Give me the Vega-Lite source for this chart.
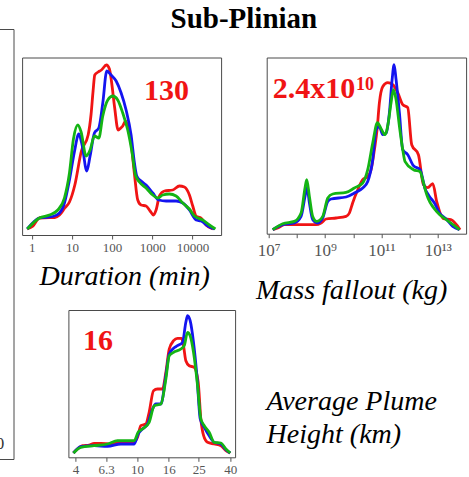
{
  "$schema": "https://vega.github.io/schema/vega-lite/v6.json",
  "padding": {"left": -5.5, "top": 5, "right": 0, "bottom": 0},
  "background": "white",
  "title": {"text": "Sub-Plinian", "font": "Liberation Serif", "fontSize": 29, "fontWeight": "bold", "color": "black", "anchor": "middle", "frame": "bounds", "baseline": "alphabetic", "offset": -28.5, "dx": 13},
  "config": {
    "view": {"stroke": "#4a4a4a", "strokeWidth": 1},
    "font": "Liberation Serif",
    "line": {"strokeWidth": 2.8},
    "axis": {"labelFont": "Liberation Serif", "titleFont": "Liberation Serif", "grid": false, "domain": false, "tickColor": "#555555", "labelColor": "#555555", "tickSize": 4, "labelPadding": 2, "titleColor": "black", "titleFontStyle": "italic", "titleFontWeight": "normal", "titleFontSize": 28, "titleBaseline": "alphabetic", "titleAlign": "center"}
  },
  "datasets": {
    "duration": [
      {"series":"A","minutes":0.77,"density":0},{"series":"A","minutes":1.06,"density":2.7},{"series":"A","minutes":1.55,"density":11},{"series":"A","minutes":2.75,"density":11.5},{"series":"A","minutes":3.74,"density":11.5},{"series":"A","minutes":4.9,"density":14},{"series":"A","minutes":6.63,"density":21},{"series":"A","minutes":8.67,"density":27},{"series":"A","minutes":11.8,"density":44},{"series":"A","minutes":17.2,"density":78},{"series":"A","minutes":25.3,"density":94},{"series":"A","minutes":30,"density":115},{"series":"A","minutes":33.6,"density":138},{"series":"A","minutes":37,"density":154},{"series":"A","minutes":45,"density":157},{"series":"A","minutes":54.2,"density":159},{"series":"A","minutes":72.2,"density":164},{"series":"A","minutes":85.8,"density":160},{"series":"A","minutes":96.2,"density":148},{"series":"A","minutes":116,"density":121},{"series":"A","minutes":141,"density":99},{"series":"A","minutes":165,"density":101},{"series":"A","minutes":184,"density":103},{"series":"A","minutes":215,"density":108},{"series":"A","minutes":245,"density":103},{"series":"A","minutes":297,"density":86},{"series":"A","minutes":360,"density":55},{"series":"A","minutes":435,"density":29},{"series":"A","minutes":527,"density":24},{"series":"A","minutes":702,"density":23},{"series":"A","minutes":883,"density":18},{"series":"A","minutes":1069,"density":14},{"series":"A","minutes":1245,"density":19},{"series":"A","minutes":1508,"density":33},{"series":"A","minutes":2009,"density":38},{"series":"A","minutes":3237,"density":39},{"series":"A","minutes":4743,"density":43},{"series":"A","minutes":6322,"density":42},{"series":"A","minutes":8420,"density":34},{"series":"A","minutes":10190,"density":23},{"series":"A","minutes":12340,"density":13},{"series":"A","minutes":16430,"density":11},{"series":"A","minutes":21880,"density":4},{"series":"A","minutes":32080,"density":0},
      {"series":"B","minutes":0.77,"density":0},{"series":"B","minutes":1.55,"density":11},{"series":"B","minutes":3.33,"density":12.5},{"series":"B","minutes":4.89,"density":16},{"series":"B","minutes":6.5,"density":26},{"series":"B","minutes":8.67,"density":49},{"series":"B","minutes":11.5,"density":77},{"series":"B","minutes":14.8,"density":95},{"series":"B","minutes":17.9,"density":84},{"series":"B","minutes":23.4,"density":58},{"series":"B","minutes":28.3,"density":73},{"series":"B","minutes":36.3,"density":96},{"series":"B","minutes":46.6,"density":101},{"series":"B","minutes":58.6,"density":126},{"series":"B","minutes":73.7,"density":158},{"series":"B","minutes":94.4,"density":154},{"series":"B","minutes":126,"density":148},{"series":"B","minutes":168,"density":136},{"series":"B","minutes":223,"density":119},{"series":"B","minutes":297,"density":94},{"series":"B","minutes":360,"density":66},{"series":"B","minutes":411,"density":53},{"series":"B","minutes":527,"density":48},{"series":"B","minutes":702,"density":44},{"series":"B","minutes":1029,"density":36},{"series":"B","minutes":1452,"density":29},{"series":"B","minutes":2209,"density":28},{"series":"B","minutes":3918,"density":28},{"series":"B","minutes":5741,"density":26},{"series":"B","minutes":8420,"density":19},{"series":"B","minutes":12340,"density":9},{"series":"B","minutes":16430,"density":8},{"series":"B","minutes":24090,"density":3},{"series":"B","minutes":35320,"density":0},
      {"series":"C","minutes":0.77,"density":0},{"series":"C","minutes":1.55,"density":11},{"series":"C","minutes":2.75,"density":14},{"series":"C","minutes":4.44,"density":19},{"series":"C","minutes":6.5,"density":31},{"series":"C","minutes":8.67,"density":56},{"series":"C","minutes":10.9,"density":90},{"series":"C","minutes":14.0,"density":104},{"series":"C","minutes":16.9,"density":97},{"series":"C","minutes":22.5,"density":73},{"series":"C","minutes":28.3,"density":79},{"series":"C","minutes":36.3,"density":93},{"series":"C","minutes":46.6,"density":91},{"series":"C","minutes":58.6,"density":113},{"series":"C","minutes":78,"density":129},{"series":"C","minutes":104,"density":133},{"series":"C","minutes":138,"density":129},{"series":"C","minutes":184,"density":116},{"series":"C","minutes":245,"density":99},{"series":"C","minutes":315,"density":76},{"series":"C","minutes":381,"density":54},{"series":"C","minutes":479,"density":47},{"series":"C","minutes":702,"density":41},{"series":"C","minutes":1029,"density":34},{"series":"C","minutes":1370,"density":31},{"series":"C","minutes":1824,"density":34},{"series":"C","minutes":2674,"density":35},{"series":"C","minutes":3918,"density":33},{"series":"C","minutes":5741,"density":26},{"series":"C","minutes":8420,"density":20},{"series":"C","minutes":11220,"density":13},{"series":"C","minutes":18070,"density":9},{"series":"C","minutes":26490,"density":4},{"series":"C","minutes":37410,"density":0}
    ],
    "duration_label": [{"minutes": 2250, "density": 129, "label": "130"}],
    "mass": [
      {"series":"A","kg":1.39e7,"density":0},{"series":"A","kg":2.09e7,"density":1.7},{"series":"A","kg":3.6e7,"density":5},{"series":"A","kg":4.79e8,"density":5},{"series":"A","kg":7.21e8,"density":6.7},{"series":"A","kg":1.09e9,"density":10.7},{"series":"A","kg":2.46e9,"density":11.7},{"series":"A","kg":5.57e9,"density":13.3},{"series":"A","kg":7.31e9,"density":16.7},{"series":"A","kg":9.59e9,"density":27},{"series":"A","kg":1.45e10,"density":40},{"series":"A","kg":2.17e10,"density":50},{"series":"A","kg":3.27e10,"density":53},{"series":"A","kg":4.3e10,"density":60},{"series":"A","kg":5.64e10,"density":80},{"series":"A","kg":7.02e10,"density":100},{"series":"A","kg":8.49e10,"density":127},{"series":"A","kg":1.11e11,"density":143},{"series":"A","kg":1.68e11,"density":147},{"series":"A","kg":2.52e11,"density":145},{"series":"A","kg":3.8e11,"density":137},{"series":"A","kg":5.72e11,"density":125},{"series":"A","kg":8.61e11,"density":122},{"series":"A","kg":1.19e12,"density":85},{"series":"A","kg":2.06e12,"density":75},{"series":"A","kg":3.1e12,"density":45},{"series":"A","kg":4.42e12,"density":42},{"series":"A","kg":6.64e12,"density":46},{"series":"A","kg":9.2e12,"density":28},{"series":"A","kg":1.59e13,"density":11},{"series":"A","kg":2.9e13,"density":10},{"series":"A","kg":6.21e13,"density":0},
      {"series":"B","kg":1.39e7,"density":0},{"series":"B","kg":3.14e7,"density":5},{"series":"B","kg":8.15e7,"density":6.7},{"series":"B","kg":1.41e8,"density":13.3},{"series":"B","kg":2.0e8,"density":35},{"series":"B","kg":2.3e8,"density":42},{"series":"B","kg":2.78e8,"density":27},{"series":"B","kg":3.65e8,"density":10},{"series":"B","kg":5.5e8,"density":6.7},{"series":"B","kg":8.26e8,"density":11.7},{"series":"B","kg":1.25e9,"density":28.3},{"series":"B","kg":1.63e9,"density":30.7},{"series":"B","kg":5.57e9,"density":32.7},{"series":"B","kg":1.1e10,"density":36.7},{"series":"B","kg":2.17e10,"density":41.7},{"series":"B","kg":3.27e10,"density":48.3},{"series":"B","kg":4.92e10,"density":70},{"series":"B","kg":6.47e10,"density":100},{"series":"B","kg":8.49e10,"density":103},{"series":"B","kg":1.11e11,"density":95},{"series":"B","kg":1.47e11,"density":96.7},{"series":"B","kg":1.92e11,"density":116.7},{"series":"B","kg":2.4e11,"density":150},{"series":"B","kg":2.82e11,"density":165},{"series":"B","kg":3.32e11,"density":150},{"series":"B","kg":4.36e11,"density":116.7},{"series":"B","kg":5.72e11,"density":80},{"series":"B","kg":8.61e11,"density":75},{"series":"B","kg":1.37e12,"density":64},{"series":"B","kg":2.36e12,"density":60},{"series":"B","kg":3.55e12,"density":41},{"series":"B","kg":5.06e12,"density":33.3},{"series":"B","kg":7.62e12,"density":26.7},{"series":"B","kg":1.15e13,"density":16.7},{"series":"B","kg":1.98e13,"density":10.7},{"series":"B","kg":3.41e13,"density":3.3},{"series":"B","kg":5.88e13,"density":0},
      {"series":"C","kg":1.39e7,"density":0},{"series":"C","kg":3.14e7,"density":6},{"series":"C","kg":8.15e7,"density":8.3},{"series":"C","kg":1.41e8,"density":16.7},{"series":"C","kg":1.95e8,"density":42},{"series":"C","kg":2.24e8,"density":50},{"series":"C","kg":2.78e8,"density":33.3},{"series":"C","kg":3.65e8,"density":13.3},{"series":"C","kg":5.06e8,"density":8.3},{"series":"C","kg":8.26e8,"density":13.3},{"series":"C","kg":1.25e9,"density":31.7},{"series":"C","kg":1.87e9,"density":35.7},{"series":"C","kg":5.57e9,"density":37.3},{"series":"C","kg":1.1e10,"density":41.7},{"series":"C","kg":2.17e10,"density":46.7},{"series":"C","kg":3.27e10,"density":60},{"series":"C","kg":4.92e10,"density":86.7},{"series":"C","kg":7.22e10,"density":107},{"series":"C","kg":9.73e10,"density":101},{"series":"C","kg":1.34e11,"density":95},{"series":"C","kg":1.75e11,"density":107},{"series":"C","kg":2.2e11,"density":127},{"series":"C","kg":2.67e11,"density":140},{"series":"C","kg":3.32e11,"density":130},{"series":"C","kg":4.36e11,"density":103.3},{"series":"C","kg":5.72e11,"density":80},{"series":"C","kg":6.92e11,"density":68},{"series":"C","kg":1.37e12,"density":60},{"series":"C","kg":2.36e12,"density":58},{"series":"C","kg":3.1e12,"density":47},{"series":"C","kg":4.06e12,"density":35},{"series":"C","kg":9.2e12,"density":18},{"series":"C","kg":2.09e13,"density":9.7},{"series":"C","kg":3.91e13,"density":4},{"series":"C","kg":5.88e13,"density":0}
    ],
    "mass_label": [{"kg": 1.39e7, "density": 131.7, "part": "mantissa", "label": "2.4x10"}, {"kg": 1.26e10, "density": 140, "part": "exponent", "label": "10"}],
    "height": [
      {"series":"A","km":3.88,"density":0},{"series":"A","km":4.12,"density":4},{"series":"A","km":4.44,"density":7.3},{"series":"A","km":4.9,"density":8},{"series":"A","km":5.28,"density":9.7},{"series":"A","km":5.83,"density":9.7},{"series":"A","km":6.77,"density":9},{"series":"A","km":7.85,"density":10.7},{"series":"A","km":9.58,"density":11.3},{"series":"A","km":10.07,"density":15.7},{"series":"A","km":10.57,"density":27.3},{"series":"A","km":11.4,"density":29},{"series":"A","km":11.97,"density":40.7},{"series":"A","km":12.77,"density":62.3},{"series":"A","km":13.55,"density":64},{"series":"A","km":14.59,"density":64},{"series":"A","km":15.35,"density":80.7},{"series":"A","km":16.14,"density":104},{"series":"A","km":17.22,"density":112.3},{"series":"A","km":18.25,"density":114.7},{"series":"A","km":19.38,"density":114.7},{"series":"A","km":19.96,"density":107.3},{"series":"A","km":20.66,"density":92.3},{"series":"A","km":21.73,"density":87.3},{"series":"A","km":23.39,"density":85.7},{"series":"A","km":24.83,"density":70.7},{"series":"A","km":25.83,"density":34},{"series":"A","km":26.92,"density":17.3},{"series":"A","km":28.52,"density":10.7},{"series":"A","km":31.52,"density":9},{"series":"A","km":34.83,"density":7.3},{"series":"A","km":37.51,"density":2.3},{"series":"A","km":40,"density":0},
      {"series":"B","km":3.88,"density":0},{"series":"B","km":4.33,"density":6.3},{"series":"B","km":5.28,"density":7.3},{"series":"B","km":6.44,"density":6.7},{"series":"B","km":7.85,"density":9},{"series":"B","km":9.58,"density":9},{"series":"B","km":10.16,"density":19},{"series":"B","km":10.84,"density":24},{"series":"B","km":11.69,"density":29},{"series":"B","km":12.59,"density":44},{"series":"B","km":13.21,"density":49},{"series":"B","km":14.25,"density":49},{"series":"B","km":15.35,"density":77.3},{"series":"B","km":16.14,"density":99},{"series":"B","km":17.22,"density":104.7},{"series":"B","km":18.25,"density":107.3},{"series":"B","km":19.68,"density":110.7},{"series":"B","km":20.66,"density":130.7},{"series":"B","km":21.19,"density":137.3},{"series":"B","km":22.03,"density":132.3},{"series":"B","km":23.16,"density":110.7},{"series":"B","km":24.36,"density":77.3},{"series":"B","km":25.59,"density":34},{"series":"B","km":27.18,"density":25.7},{"series":"B","km":29.24,"density":17.3},{"series":"B","km":31.52,"density":10.7},{"series":"B","km":34.83,"density":9},{"series":"B","km":37.51,"density":3.3},{"series":"B","km":40,"density":0},
      {"series":"C","km":3.88,"density":0},{"series":"C","km":4.33,"density":5.7},{"series":"C","km":5.28,"density":7.3},{"series":"C","km":6.44,"density":9},{"series":"C","km":7.48,"density":12.3},{"series":"C","km":9.58,"density":12.3},{"series":"C","km":10.16,"density":20.7},{"series":"C","km":10.84,"density":24},{"series":"C","km":11.97,"density":30.7},{"series":"C","km":12.91,"density":47.3},{"series":"C","km":14.25,"density":49},{"series":"C","km":15.35,"density":74},{"series":"C","km":16.14,"density":97.3},{"series":"C","km":17.22,"density":100.7},{"series":"C","km":19.19,"density":104},{"series":"C","km":20.17,"density":107.3},{"series":"C","km":21.19,"density":120.7},{"series":"C","km":22.03,"density":117.3},{"series":"C","km":23.16,"density":100.7},{"series":"C","km":24.6,"density":67.3},{"series":"C","km":25.83,"density":34},{"series":"C","km":27.18,"density":27.3},{"series":"C","km":29.24,"density":20.7},{"series":"C","km":31.52,"density":10.7},{"series":"C","km":34.83,"density":10},{"series":"C","km":37.51,"density":4},{"series":"C","km":40,"density":0}
    ],
    "height_label": [{"km": 5.59, "density": 103, "label": "16"}],
    "fragment": [{"label": "0"}],
    "blank": [{"note": "layout spacer"}]
  },
  "spacing": 4.6,
  "hconcat": [
    {
      "width": 16, "height": 430,
      "data": {"name": "fragment"},
      "mark": {"type": "text", "font": "Liberation Serif", "fontSize": 17, "color": "#333333", "align": "center", "baseline": "middle"},
      "encoding": {
        "x": {"datum": 0.15, "type": "quantitative", "scale": {"domain": [0, 1], "nice": false}, "axis": null},
        "y": {"datum": 0.035, "type": "quantitative", "scale": {"domain": [0, 1], "nice": false}, "axis": null},
        "text": {"field": "label"}
      }
    },
    {
      "spacing": 3.5,
      "vconcat": [
        {"width": 1, "height": 23.5, "data": {"name": "blank"}, "mark": {"type": "point", "opacity": 0}, "view": {"stroke": null}},
        {
          "bounds": "flush",
          "spacing": 45.6,
          "hconcat": [
            {
              "width": 199, "height": 177.5,
              "layer": [
                {
                  "mark": {"type": "rule", "color": "#dddddd", "strokeWidth": 1.5},
                  "encoding": {"y": {"datum": 0, "type": "quantitative", "scale": {"domain": [-6, 171.5], "nice": false, "zero": false}, "axis": null}}
                },
                {
                  "data": {"name": "duration"},
                  "mark": {"type": "line", "interpolate": "monotone"},
                  "encoding": {
                    "x": {"field": "minutes", "type": "quantitative", "scale": {"type": "log", "domain": [0.574, 51760], "nice": false},
                          "axis": {"values": [1, 10, 100, 1000, 10000], "format": "d", "labelFontSize": 13, "title": "Duration (min)", "titleX": 102, "titleY": 49.5}},
                    "y": {"field": "density", "type": "quantitative", "scale": {"domain": [-6, 171.5], "nice": false, "zero": false}, "axis": null},
                    "color": {"field": "series", "type": "nominal", "scale": {"domain": ["A", "B", "C"], "range": ["#f01414", "#1414f0", "#14b414"]}, "legend": null}
                  }
                },
                {
                  "data": {"name": "duration_label"},
                  "mark": {"type": "text", "font": "Liberation Serif", "fontWeight": "bold", "fontSize": 30, "color": "#f01414", "align": "center", "baseline": "alphabetic"},
                  "encoding": {
                    "x": {"field": "minutes", "type": "quantitative"},
                    "y": {"field": "density", "type": "quantitative"},
                    "text": {"field": "label"}
                  }
                }
              ]
            },
            {
              "width": 199.4, "height": 176.2,
              "layer": [
                {
                  "mark": {"type": "rule", "color": "#dddddd", "strokeWidth": 1.5},
                  "encoding": {"y": {"datum": 0, "type": "quantitative", "scale": {"domain": [-4, 172.2], "nice": false, "zero": false}, "axis": null}}
                },
                {
                  "data": {"name": "mass"},
                  "mark": {"type": "line", "interpolate": "monotone"},
                  "encoding": {
                    "x": {"field": "kg", "type": "quantitative", "scale": {"type": "log", "domain": [8.49e6, 1.014e14], "nice": false},
                          "axis": {"values": [1e7, 1e8, 1e9, 1e10, 1e11, 1e12, 1e13], "labelFontSize": 17, "labelPadding": 5,
                                   "labelExpr": "datum.value == 1e7 ? '10⁷' : datum.value == 1e9 ? '10⁹' : datum.value == 1e11 ? '10¹¹' : datum.value == 1e13 ? '10¹³' : ''",
                                   "title": "Mass fallout (kg)", "titleX": 84.4, "titleY": 65}},
                    "y": {"field": "density", "type": "quantitative", "scale": {"domain": [-4, 172.2], "nice": false, "zero": false}, "axis": null},
                    "color": {"field": "series", "type": "nominal", "scale": {"domain": ["A", "B", "C"], "range": ["#f01414", "#1414f0", "#14b414"]}, "legend": null}
                  }
                },
                {
                  "data": {"name": "mass_label"},
                  "transform": [{"filter": "datum.part == 'mantissa'"}],
                  "mark": {"type": "text", "font": "Liberation Serif", "fontWeight": "bold", "fontSize": 30, "color": "#f01414", "align": "left", "baseline": "alphabetic"},
                  "encoding": {
                    "x": {"field": "kg", "type": "quantitative"},
                    "y": {"field": "density", "type": "quantitative"},
                    "text": {"field": "label"}
                  }
                },
                {
                  "data": {"name": "mass_label"},
                  "transform": [{"filter": "datum.part == 'exponent'"}],
                  "mark": {"type": "text", "font": "Liberation Serif", "fontWeight": "bold", "fontSize": 18, "color": "#f01414", "align": "left", "baseline": "alphabetic"},
                  "encoding": {
                    "x": {"field": "kg", "type": "quantitative"},
                    "y": {"field": "density", "type": "quantitative"},
                    "text": {"field": "label"}
                  }
                }
              ]
            }
          ]
        },
        {
          "bounds": "flush",
          "spacing": 10.3,
          "hconcat": [
            {"width": 36, "height": 147.3, "data": {"name": "blank"}, "mark": {"type": "point", "opacity": 0}, "view": {"stroke": null}},
            {
              "width": 166.7, "height": 147.3,
              "layer": [
                {
                  "mark": {"type": "rule", "color": "#dddddd", "strokeWidth": 1.5},
                  "encoding": {"y": {"datum": 0, "type": "quantitative", "scale": {"domain": [-4.3, 143], "nice": false, "zero": false}, "axis": null}}
                },
                {
                  "data": {"name": "height"},
                  "mark": {"type": "line", "interpolate": "monotone"},
                  "encoding": {
                    "x": {"field": "km", "type": "quantitative", "scale": {"type": "log", "domain": [3.6, 43], "nice": false},
                          "axis": {"values": [4, 6.3, 10, 16, 25, 40], "format": "~g", "labelFontSize": 13,
                                   "title": ["Average Plume", "Height (km)"], "titleAlign": "left", "titleX": 197.7, "titleY": -47.8, "titleLineHeight": 33.3}},
                    "y": {"field": "density", "type": "quantitative", "scale": {"domain": [-4.3, 143], "nice": false, "zero": false}, "axis": null},
                    "color": {"field": "series", "type": "nominal", "scale": {"domain": ["A", "B", "C"], "range": ["#f01414", "#1414f0", "#14b414"]}, "legend": null}
                  }
                },
                {
                  "data": {"name": "height_label"},
                  "mark": {"type": "text", "font": "Liberation Serif", "fontWeight": "bold", "fontSize": 30, "color": "#f01414", "align": "center", "baseline": "alphabetic"},
                  "encoding": {
                    "x": {"field": "km", "type": "quantitative"},
                    "y": {"field": "density", "type": "quantitative"},
                    "text": {"field": "label"}
                  }
                }
              ]
            }
          ]
        }
      ]
    }
  ]
}
